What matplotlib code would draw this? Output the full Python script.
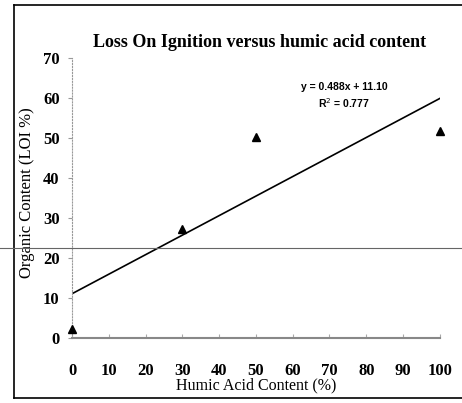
import matplotlib
matplotlib.use("Agg")
import numpy as np
import matplotlib.pyplot as plt
from matplotlib.lines import Line2D

# data
humic_acid = [0, 30, 50, 100]
loi = [2.2, 27.3, 50.3, 51.8]

# trendline as printed on the chart
slope = 0.488
intercept = 11.10
r_squared = 0.777

x_ticks = [0, 10, 20, 30, 40, 50, 60, 70, 80, 90, 100]
y_ticks = [0, 10, 20, 30, 40, 50, 60, 70]

plt.rcParams["font.family"] = ["Liberation Serif", "DejaVu Serif"]

fig = plt.figure(figsize=(4.62, 4.03), dpi=100)
ax = fig.add_axes([0.156, 0.161, 0.796, 0.695])

ax.plot(humic_acid, loi, linestyle="none", marker="^", color="black",
        markersize=6, clip_on=False, zorder=3)

fit_x = np.array([0, 100])
ax.plot(fit_x, slope * fit_x + intercept, color="black", linewidth=1.2)

ax.text(74, 60.5, f"y = {slope}x + {intercept:.2f}\nR$^2$ = {r_squared}",
        ha="center", va="center", fontsize=7.5, fontweight="bold",
        family=["Liberation Sans", "DejaVu Sans"], linespacing=1.4)

ax.set_xlim(0, 100)
ax.set_ylim(0, 70)
ax.set_xticks(x_ticks)
ax.set_yticks(y_ticks)
for lab in ax.get_xticklabels() + ax.get_yticklabels():
    lab.set_fontweight("bold")
    lab.set_fontsize(12)

ax.spines["top"].set_visible(False)
ax.spines["right"].set_visible(False)
ax.spines["left"].set_linestyle(":")
ax.spines["left"].set_color("#999999")
ax.spines["left"].set_linewidth(0.8)
ax.spines["bottom"].set_color("#888888")
ax.spines["bottom"].set_linewidth(1.5)
ax.tick_params(axis="y", direction="out", length=3, color="#999999", pad=6)
ax.tick_params(axis="x", direction="in", length=3, color="#aaaaaa", pad=18)

ax.set_title("Loss On Ignition versus humic acid content", fontsize=13,
             fontweight="bold", pad=8, x=0.51)
ax.set_xlabel("Humic Acid Content (%)", fontsize=11.5, labelpad=-1)
ax.set_ylabel("Organic Content (LOI %)", fontsize=12)
ax.yaxis.set_label_coords(-0.10, 0.52)

# scanned frame and scan streak
fig.add_artist(Line2D([0.030, 0.030], [0.012, 0.988], color="black", lw=1.2))
fig.add_artist(Line2D([0.030, 1.0], [0.988, 0.988], color="black", lw=1.2))
fig.add_artist(Line2D([0.030, 1.0], [0.012, 0.012], color="black", lw=1.2))
fig.add_artist(Line2D([0.0, 1.0], [0.385, 0.385], color="#666666", lw=0.8))

fig.savefig("out.png", dpi=100)
